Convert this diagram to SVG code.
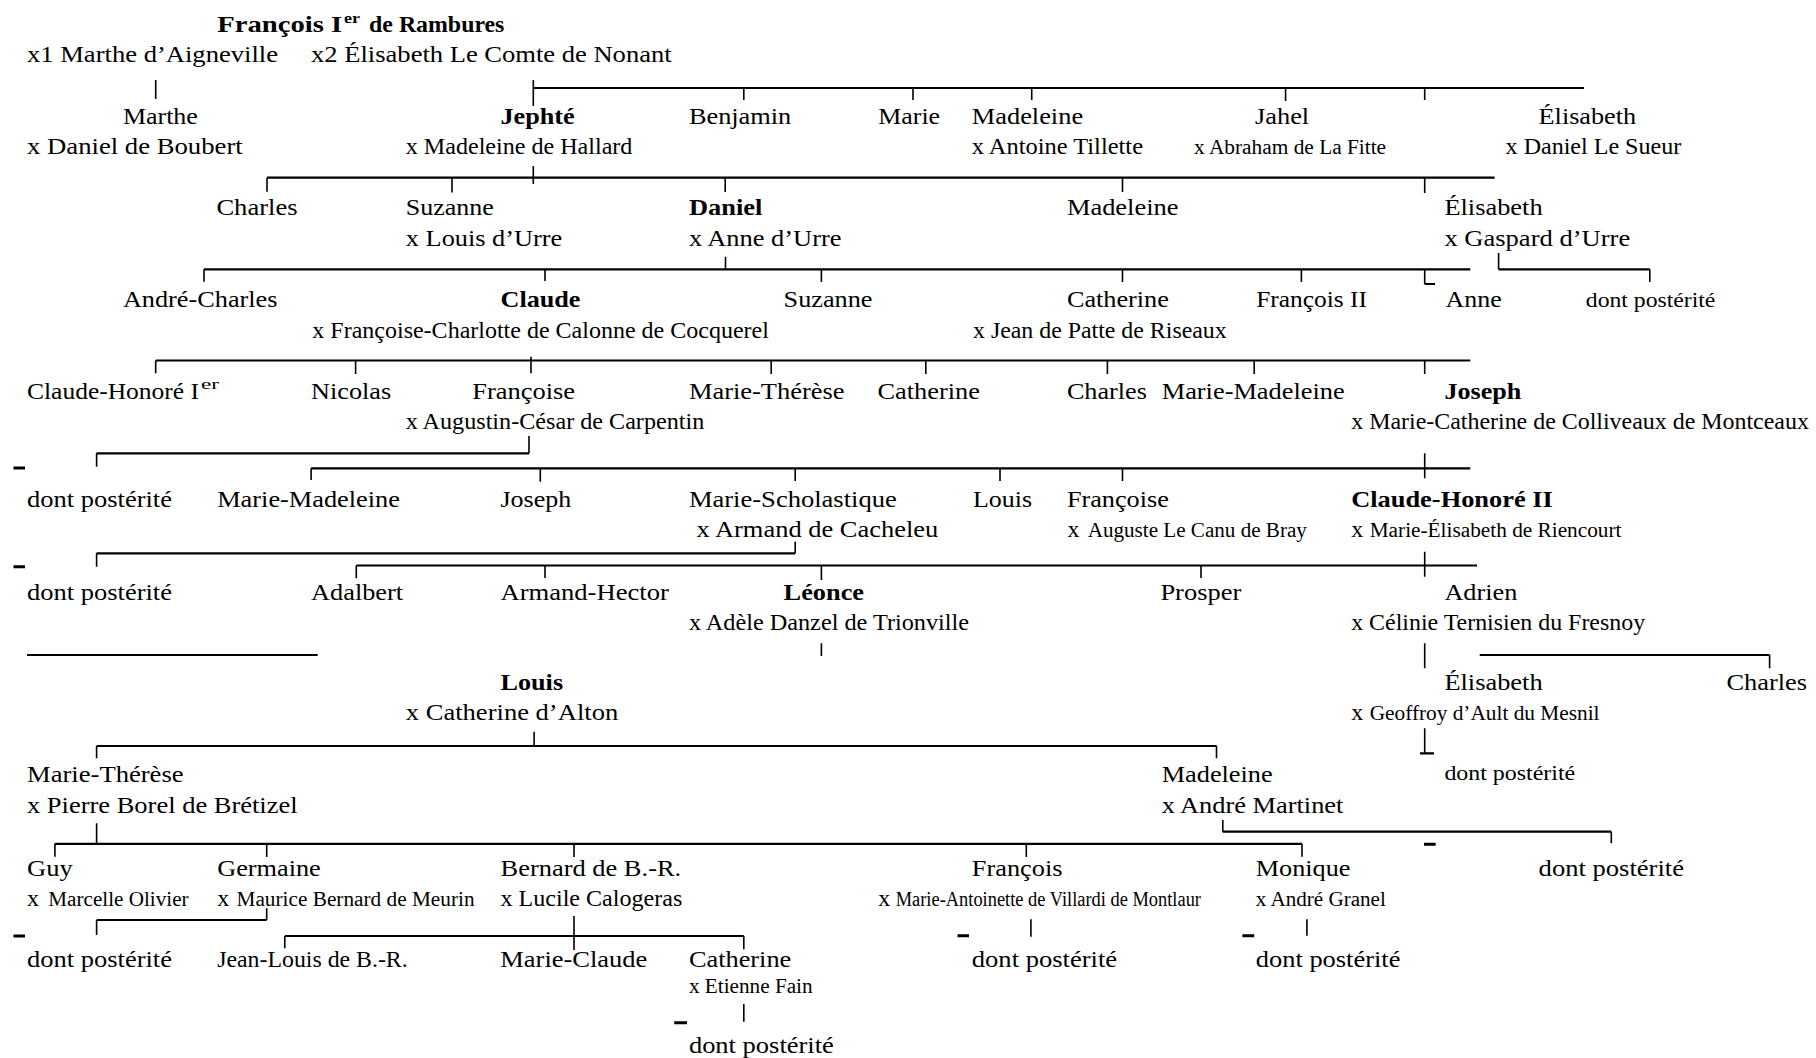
<svg xmlns="http://www.w3.org/2000/svg" width="1816" height="1058" viewBox="0 0 1816 1058">
<style>
text { font-family: "Liberation Serif", "Times New Roman", serif; font-size: 24px; fill: #000; }
.b { font-weight: bold; }
.s { font-size: 20px; }
.sup { font-size: 14px; }
.h { stroke: #000; stroke-width: 2.2; fill: none; }
.v { stroke: #000; stroke-width: 1.6; fill: none; }
.d { stroke: #000; stroke-width: 3; fill: none; }
</style>
<rect width="1816" height="1058" fill="#fff"/>
<g id="connectors">
<path class="h" d="M533.3 88H1584 M267 177.7H1494.6 M204 269.3H1470.3 M1498.6 269.3H1649.8 M155.7 360.5H1470.3 M96.6 453.3H529 M311.1 468.3H1470.3 M96.6 553.3H795.2 M356.3 565.5H1477 M27 655H317.7 M1479.7 655H1769.6 M96.6 746H1216.5 M54.9 843.8H1302 M1222.8 831.7H1611.3 M96.6 920H266.7 M284.8 936H743.8 M1424.7 284H1435 M1420 753.3H1434"/>
<path class="v" d="M155.7 80V99 M533.3 80V106 M743.8 88V100 M913 88V100 M1031.7 88V100 M1285.6 88V101 M1424.7 88V100
M533.3 166V184 M267 177.7V191.7 M452 177.7V192.6 M725.2 177.7V192 M1122.5 177.7V192 M1424.7 177.7V193
M725.5 256.7V269.3 M204 269.3V281.7 M545 269.3V281 M821.4 269.3V282 M1122.5 269.3V282 M1301.4 269.3V282 M1424.7 269.3V284 M1498.6 253V269.3 M1649.8 269.3V282
M531 356.7V373.3 M155.7 360.5V373.3 M355.6 360.5V374 M771.2 360.5V374 M925.8 360.5V374 M1107.4 360.5V374 M1254.2 360.5V374 M1424.7 360.5V374
M529 436V453.3 M96.6 453.3V466.7 M1424.7 453.3V478.3 M311.1 468.3V480 M540.3 468.3V481.7 M795.2 468.3V481 M1000 468.3V481 M1122.5 468.3V481
M795.2 541.7V553.3 M96.6 553.3V566.7 M1424.7 551.7V576.7 M356.3 565.5V578.3 M545 565.5V578 M821.4 565.5V580 M1201 565.5V578
M821.4 643.3V656 M1424.7 643.3V668.3 M1769.6 655V668.3
M534.1 731.7V746 M96.6 746V758.3 M1216.5 746V758.3 M1424.7 728.3V753.3
M96.6 823.3V843.8 M54.9 843.8V856.7 M266.7 843.8V857 M574 843.8V857 M1026.3 843.8V857 M1302 843.8V856.7 M1222.8 820V831.7 M1611.3 831.7V843.3
M266.7 908.3V920 M96.6 920V935 M574 916V950 M284.8 936V948.3 M743.8 936V949.3 M1030.9 919.3V936.7 M1306.9 919.3V935.7
M743.8 1004V1021.7"/>
<path class="d" d="M13.5 468H25 M13.5 566.7H25 M13.5 936H25 M1424 844.3H1435.7 M957.5 935.7H969 M1242.4 935.7H1254.2 M674.2 1022.7H687"/>
</g>
<g id="n-francois1">
<text class="b" x="217.2" y="31.7" textLength="125" lengthAdjust="spacingAndGlyphs">François I</text>
<text class="b sup" x="344" y="22.5" textLength="16" lengthAdjust="spacingAndGlyphs">er</text>
<text class="b" x="369.1" y="31.7" textLength="135.3" lengthAdjust="spacingAndGlyphs">de Rambures</text>
<text x="27" y="62" textLength="251" lengthAdjust="spacingAndGlyphs">x1 Marthe d’Aigneville</text>
<text x="311.1" y="62" textLength="360.5" lengthAdjust="spacingAndGlyphs">x2 Élisabeth Le Comte de Nonant</text>
</g>
<g id="n-marthe">
<text x="122.9" y="123.5" textLength="75" lengthAdjust="spacingAndGlyphs">Marthe</text>
<text x="27" y="153.5" textLength="215.7" lengthAdjust="spacingAndGlyphs">x Daniel de Boubert</text>
</g>
<g id="n-jephte">
<text class="b" x="500.5" y="123.5" textLength="74.2" lengthAdjust="spacingAndGlyphs">Jephté</text>
<text x="405.8" y="153.5" textLength="226.6" lengthAdjust="spacingAndGlyphs">x Madeleine de Hallard</text>
</g>
<g id="n-benjamin"><text x="688.9" y="123.5" textLength="102.4" lengthAdjust="spacingAndGlyphs">Benjamin</text></g>
<g id="n-marie"><text x="878.3" y="123.5" textLength="61.8" lengthAdjust="spacingAndGlyphs">Marie</text></g>
<g id="n-madeleine1">
<text x="971.8" y="123.5" textLength="111.3" lengthAdjust="spacingAndGlyphs">Madeleine</text>
<text x="971.8" y="153.5" textLength="171.2" lengthAdjust="spacingAndGlyphs">x Antoine Tillette</text>
</g>
<g id="n-jahel">
<text x="1255" y="123.5" textLength="54.2" lengthAdjust="spacingAndGlyphs">Jahel</text>
<text class="s" x="1194.1" y="153.5" textLength="192" lengthAdjust="spacingAndGlyphs">x Abraham de La Fitte</text>
</g>
<g id="n-elisabeth1">
<text x="1538.6" y="123.5" textLength="97.5" lengthAdjust="spacingAndGlyphs">Élisabeth</text>
<text x="1505.6" y="153.5" textLength="175.6" lengthAdjust="spacingAndGlyphs">x Daniel Le Sueur</text>
</g>
<g id="n-charles1"><text x="216.4" y="214.5" textLength="81.2" lengthAdjust="spacingAndGlyphs">Charles</text></g>
<g id="n-suzanne1">
<text x="405.8" y="214.5" textLength="88.1" lengthAdjust="spacingAndGlyphs">Suzanne</text>
<text x="405.8" y="245.5" textLength="156.5" lengthAdjust="spacingAndGlyphs">x Louis d’Urre</text>
</g>
<g id="n-daniel">
<text class="b" x="688.9" y="214.5" textLength="73.4" lengthAdjust="spacingAndGlyphs">Daniel</text>
<text x="688.9" y="245.5" textLength="152.6" lengthAdjust="spacingAndGlyphs">x Anne d’Urre</text>
</g>
<g id="n-madeleine2"><text x="1066.9" y="214.5" textLength="111.6" lengthAdjust="spacingAndGlyphs">Madeleine</text></g>
<g id="n-elisabeth2">
<text x="1444.4" y="214.5" textLength="98.2" lengthAdjust="spacingAndGlyphs">Élisabeth</text>
<text x="1444.4" y="245.5" textLength="185.8" lengthAdjust="spacingAndGlyphs">x Gaspard d’Urre</text>
</g>
<g id="n-andre-charles"><text x="122.9" y="306.7" textLength="154.6" lengthAdjust="spacingAndGlyphs">André-Charles</text></g>
<g id="n-claude">
<text class="b" x="500.5" y="306.7" textLength="80" lengthAdjust="spacingAndGlyphs">Claude</text>
<text x="312.3" y="338" textLength="456.6" lengthAdjust="spacingAndGlyphs">x Françoise-Charlotte de Calonne de Cocquerel</text>
</g>
<g id="n-suzanne2"><text x="783.6" y="306.7" textLength="88.9" lengthAdjust="spacingAndGlyphs">Suzanne</text></g>
<g id="n-catherine1">
<text x="1066.9" y="306.7" textLength="102" lengthAdjust="spacingAndGlyphs">Catherine</text>
<text x="973" y="338" textLength="253.7" lengthAdjust="spacingAndGlyphs">x Jean de Patte de Riseaux</text>
</g>
<g id="n-francois2"><text x="1256.2" y="306.7" textLength="110.8" lengthAdjust="spacingAndGlyphs">François II</text></g>
<g id="n-anne"><text x="1445.5" y="306.7" textLength="56.2" lengthAdjust="spacingAndGlyphs">Anne</text></g>
<g id="n-posterite-gaspard"><text class="s" x="1585.8" y="306.7" textLength="129.6" lengthAdjust="spacingAndGlyphs">dont postérité</text></g>
<g id="n-claude-honore1">
<text x="27" y="398.5" textLength="172" lengthAdjust="spacingAndGlyphs">Claude-Honoré I</text>
<text class="sup" x="201" y="389" textLength="18" lengthAdjust="spacingAndGlyphs">er</text>
</g>
<g id="n-nicolas"><text x="311.1" y="398.5" textLength="80" lengthAdjust="spacingAndGlyphs">Nicolas</text></g>
<g id="n-francoise1">
<text x="472.3" y="398.5" textLength="102.8" lengthAdjust="spacingAndGlyphs">Françoise</text>
<text x="405.8" y="429" textLength="298.5" lengthAdjust="spacingAndGlyphs">x Augustin-César de Carpentin</text>
</g>
<g id="n-marie-therese1"><text x="688.9" y="398.5" textLength="155.7" lengthAdjust="spacingAndGlyphs">Marie-Thérèse</text></g>
<g id="n-catherine2"><text x="877.5" y="398.5" textLength="102.4" lengthAdjust="spacingAndGlyphs">Catherine</text></g>
<g id="n-charles2"><text x="1066.9" y="398.5" textLength="80" lengthAdjust="spacingAndGlyphs">Charles</text></g>
<g id="n-marie-madeleine1"><text x="1161.7" y="398.5" textLength="183" lengthAdjust="spacingAndGlyphs">Marie-Madeleine</text></g>
<g id="n-joseph1">
<text class="b" x="1444.4" y="398.5" textLength="77" lengthAdjust="spacingAndGlyphs">Joseph</text>
<text x="1351.2" y="429" textLength="457.7" lengthAdjust="spacingAndGlyphs">x Marie-Catherine de Colliveaux de Montceaux</text>
</g>
<g id="n-posterite1"><text x="27" y="506.7" textLength="145" lengthAdjust="spacingAndGlyphs">dont postérité</text></g>
<g id="n-marie-madeleine2"><text x="217.2" y="506.7" textLength="182.8" lengthAdjust="spacingAndGlyphs">Marie-Madeleine</text></g>
<g id="n-joseph2"><text x="500.5" y="506.7" textLength="70.7" lengthAdjust="spacingAndGlyphs">Joseph</text></g>
<g id="n-marie-scholastique">
<text x="688.9" y="506.7" textLength="207.9" lengthAdjust="spacingAndGlyphs">Marie-Scholastique</text>
<text x="696.6" y="536.7" textLength="241.6" lengthAdjust="spacingAndGlyphs">x Armand de Cacheleu</text>
</g>
<g id="n-louis1"><text x="973" y="506.7" textLength="59.1" lengthAdjust="spacingAndGlyphs">Louis</text></g>
<g id="n-francoise2">
<text x="1066.9" y="506.7" textLength="102" lengthAdjust="spacingAndGlyphs">Françoise</text>
<text x="1067.6" y="536.7">x</text>
<text class="s" x="1087.7" y="536.7" textLength="219.2" lengthAdjust="spacingAndGlyphs">Auguste Le Canu de Bray</text>
</g>
<g id="n-claude-honore2">
<text class="b" x="1351.2" y="506.7" textLength="201.6" lengthAdjust="spacingAndGlyphs">Claude-Honoré II</text>
<text x="1351.2" y="536.7">x</text>
<text class="s" x="1369.7" y="536.7" textLength="251.8" lengthAdjust="spacingAndGlyphs">Marie-Élisabeth de Riencourt</text>
</g>
<g id="n-posterite2"><text x="27" y="599.5" textLength="145" lengthAdjust="spacingAndGlyphs">dont postérité</text></g>
<g id="n-adalbert"><text x="311.1" y="599.5" textLength="92" lengthAdjust="spacingAndGlyphs">Adalbert</text></g>
<g id="n-armand-hector"><text x="500.5" y="599.5" textLength="168.3" lengthAdjust="spacingAndGlyphs">Armand-Hector</text></g>
<g id="n-leonce">
<text class="b" x="783.6" y="599.5" textLength="80.4" lengthAdjust="spacingAndGlyphs">Léonce</text>
<text x="688.9" y="630" textLength="280.2" lengthAdjust="spacingAndGlyphs">x Adèle Danzel de Trionville</text>
</g>
<g id="n-prosper"><text x="1160.4" y="599.5" textLength="80.8" lengthAdjust="spacingAndGlyphs">Prosper</text></g>
<g id="n-adrien">
<text x="1444.4" y="599.5" textLength="73" lengthAdjust="spacingAndGlyphs">Adrien</text>
<text x="1351.2" y="630" textLength="293.9" lengthAdjust="spacingAndGlyphs">x Célinie Ternisien du Fresnoy</text>
</g>
<g id="n-louis2">
<text class="b" x="500.5" y="690" textLength="62.6" lengthAdjust="spacingAndGlyphs">Louis</text>
<text x="405.8" y="720" textLength="212.4" lengthAdjust="spacingAndGlyphs">x Catherine d’Alton</text>
</g>
<g id="n-elisabeth3">
<text x="1444.4" y="690" textLength="98.2" lengthAdjust="spacingAndGlyphs">Élisabeth</text>
<text x="1351.2" y="720">x</text>
<text class="s" x="1369.7" y="720" textLength="229.8" lengthAdjust="spacingAndGlyphs">Geoffroy d’Ault du Mesnil</text>
</g>
<g id="n-charles3"><text x="1726.4" y="690" textLength="80.6" lengthAdjust="spacingAndGlyphs">Charles</text></g>
<g id="n-marie-therese2">
<text x="27" y="781.7" textLength="156.6" lengthAdjust="spacingAndGlyphs">Marie-Thérèse</text>
<text x="27" y="813.3" textLength="270.6" lengthAdjust="spacingAndGlyphs">x Pierre Borel de Brétizel</text>
</g>
<g id="n-madeleine3">
<text x="1161.7" y="781.7" textLength="111" lengthAdjust="spacingAndGlyphs">Madeleine</text>
<text x="1161.7" y="813.3" textLength="181.7" lengthAdjust="spacingAndGlyphs">x André Martinet</text>
</g>
<g id="n-posterite-geoffroy"><text class="s" x="1444.4" y="780" textLength="130.8" lengthAdjust="spacingAndGlyphs">dont postérité</text></g>
<g id="n-guy">
<text x="27" y="875.5" textLength="45.7" lengthAdjust="spacingAndGlyphs">Guy</text>
<text x="27" y="906">x</text>
<text class="s" x="48.3" y="906" textLength="140.3" lengthAdjust="spacingAndGlyphs">Marcelle Olivier</text>
</g>
<g id="n-germaine">
<text x="217.2" y="875.5" textLength="103.6" lengthAdjust="spacingAndGlyphs">Germaine</text>
<text x="217.2" y="906">x</text>
<text class="s" x="236.5" y="906" textLength="238.1" lengthAdjust="spacingAndGlyphs">Maurice Bernard de Meurin</text>
</g>
<g id="n-bernard">
<text x="500.5" y="875.5" textLength="180.7" lengthAdjust="spacingAndGlyphs">Bernard de B.-R.</text>
<text x="500.5" y="906" textLength="181.8" lengthAdjust="spacingAndGlyphs">x Lucile Calogeras</text>
</g>
<g id="n-francois3">
<text x="971.8" y="875.5" textLength="90.8" lengthAdjust="spacingAndGlyphs">François</text>
<text x="878.3" y="906">x</text>
<text class="s" x="895.7" y="906" textLength="305.3" lengthAdjust="spacingAndGlyphs">Marie-Antoinette de Villardi de Montlaur</text>
</g>
<g id="n-monique">
<text x="1255.8" y="875.5" textLength="94.7" lengthAdjust="spacingAndGlyphs">Monique</text>
<text class="s" x="1255.8" y="906" textLength="130" lengthAdjust="spacingAndGlyphs">x André Granel</text>
</g>
<g id="n-posterite-martinet"><text x="1538.6" y="875.5" textLength="145.4" lengthAdjust="spacingAndGlyphs">dont postérité</text></g>
<g id="n-posterite3"><text x="27" y="967" textLength="145" lengthAdjust="spacingAndGlyphs">dont postérité</text></g>
<g id="n-jean-louis"><text x="217.2" y="967" textLength="190.5" lengthAdjust="spacingAndGlyphs">Jean-Louis de B.-R.</text></g>
<g id="n-marie-claude"><text x="500.3" y="967" textLength="147" lengthAdjust="spacingAndGlyphs">Marie-Claude</text></g>
<g id="n-catherine3">
<text x="688.9" y="967" textLength="102.4" lengthAdjust="spacingAndGlyphs">Catherine</text>
<text class="s" x="688.9" y="993.3" textLength="123.7" lengthAdjust="spacingAndGlyphs">x Etienne Fain</text>
</g>
<g id="n-posterite-francois"><text x="971.8" y="967" textLength="145.3" lengthAdjust="spacingAndGlyphs">dont postérité</text></g>
<g id="n-posterite-monique"><text x="1255.8" y="967" textLength="144.6" lengthAdjust="spacingAndGlyphs">dont postérité</text></g>
<g id="n-posterite-fain"><text x="688.9" y="1053.3" textLength="144.9" lengthAdjust="spacingAndGlyphs">dont postérité</text></g>
</svg>
